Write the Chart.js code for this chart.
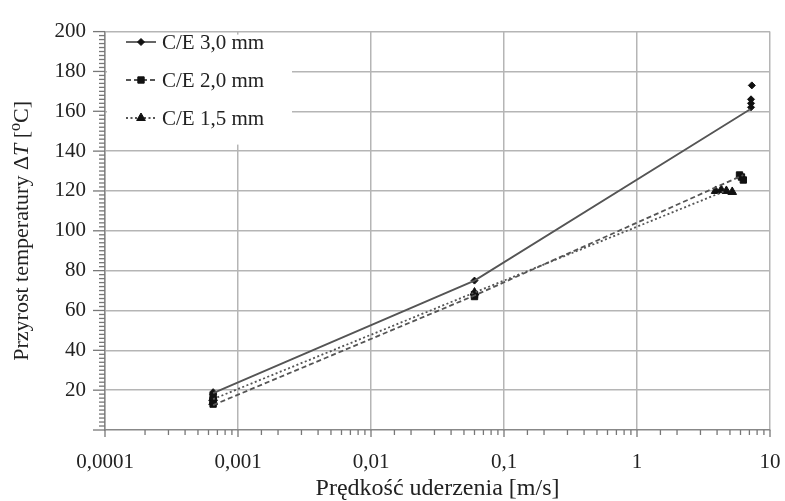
<!DOCTYPE html>
<html>
<head>
<meta charset="utf-8">
<script src="https://cdn.jsdelivr.net/npm/chart.js@4/dist/chart.umd.min.js"></script>
<style>
  html, body { margin: 0; padding: 0; background: #fff; }
  #wrap { width: 785px; height: 501px; position: relative; }
</style>
</head>
<body>
<div id="wrap"><canvas id="chart"></canvas></div>
<script>
// Series names (legend)
const seriesNames = ['C/E 3,0 mm', 'C/E 2,0 mm', 'C/E 1,5 mm'];

// Trend lines
const line30X = [0.00065, 0.06, 7.1];
const line30Y = [18.5, 75, 161];
const line20X = [0.00065, 0.06, 6.3];
const line20Y = [12.5, 67.5, 128];
const line15X = [0.00065, 0.06, 4.6];
const line15Y = [15.5, 69, 120];

// Measured points
const pts30X = [0.00065, 0.00065, 0.06, 7.3, 7.2, 7.2, 7.2];
const pts30Y = [19, 18, 75, 173, 166, 164, 162];
const pts20X = [0.00065, 0.00065, 0.00065, 0.06, 0.06, 5.9, 6.1, 6.3];
const pts20Y = [17, 15, 13, 68, 67, 128, 127, 125.5];
const pts15X = [0.00065, 0.00065, 0.06, 3.9, 4.3, 4.7, 5.2];
const pts15Y = [16, 14, 69, 120, 120.5, 120, 119.5];

// Axis ticks
const xTickLabels = ['0,0001', '0,001', '0,01', '0,1', '1', '10'];
const yTickValues = [20, 40, 60, 80, 100, 120, 140, 160, 180, 200];

const xTitle = 'Prędkość uderzenia [m/s]';
const FONT = '"Liberation Serif", "DejaVu Serif", serif';

function pairs(xs, ys) {
    return xs.map((x, i) => ({ x: x, y: ys[i] }));
}

function isDecade(v) {
    const l = Math.log10(v);
    return Math.abs(l - Math.round(l)) < 1e-9;
}

// minor ticks + axis titles + legend
const decorPlugin = {
    id: 'decor',
    afterDraw(chart) {
        const ctx = chart.ctx;
        const area = chart.chartArea;
        const xs = chart.scales.x;
        const ys = chart.scales.y;
        ctx.save();
        ctx.strokeStyle = '#777';
        ctx.lineWidth = 1.3;

        // x ticks (log)
        xs.ticks.forEach(t => {
            const px = xs.getPixelForValue(t.value);
            ctx.beginPath();
            ctx.moveTo(px, area.bottom);
            ctx.lineTo(px, area.bottom + (isDecade(t.value) ? 7 : 5));
            ctx.stroke();
        });
        // y ticks, minor every 2
        for (let v = 0; v <= 200; v += 2) {
            const py = ys.getPixelForValue(v);
            const major = v % 20 === 0;
            ctx.beginPath();
            ctx.moveTo(area.left - (major ? 12 : 6), py);
            ctx.lineTo(area.left, py);
            ctx.stroke();
        }

        // x title
        ctx.fillStyle = '#222';
        ctx.font = '24px ' + FONT;
        ctx.textAlign = 'center';
        ctx.textBaseline = 'middle';
        ctx.fillText(xTitle, (area.left + area.right) / 2, 489);

        // y title with italic T and raised o
        const parts = [
            { t: 'Przyrost temperatury \u0394', f: '22px ' + FONT, dy: 0 },
            { t: 'T', f: 'italic 22px ' + FONT, dy: 0 },
            { t: ' [', f: '22px ' + FONT, dy: 0 },
            { t: 'o', f: '16px ' + FONT, dy: -6 },
            { t: 'C]', f: '22px ' + FONT, dy: 0 }
        ];
        let total = 0;
        parts.forEach(p => { ctx.font = p.f; p.w = ctx.measureText(p.t).width; total += p.w; });
        ctx.save();
        ctx.translate(22, (area.top + area.bottom) / 2);
        ctx.rotate(-Math.PI / 2);
        ctx.textAlign = 'left';
        ctx.textBaseline = 'middle';
        let cx = -total / 2;
        parts.forEach(p => {
            ctx.font = p.f;
            ctx.fillText(p.t, cx, p.dy);
            cx += p.w;
        });
        ctx.restore();

        // legend
        ctx.fillStyle = '#fff';
        ctx.fillRect(area.left + 2, area.top + 3, 185, 110);
        const rows = [42, 80, 118];
        const dashes = [[], [5, 3], [2, 2.5]];
        const shapes = ['rectRot', 'rect', 'triangle'];
        const sizes = [3.5, 4.5, 5];
        rows.forEach((ry, i) => {
            ctx.strokeStyle = '#555';
            ctx.lineWidth = 1.8;
            ctx.setLineDash(dashes[i]);
            ctx.beginPath();
            ctx.moveTo(126, ry);
            ctx.lineTo(156, ry);
            ctx.stroke();
            ctx.setLineDash([]);
            ctx.fillStyle = '#111';
            ctx.strokeStyle = '#111';
            ctx.lineWidth = 1;
            Chart.helpers.drawPoint(ctx, { pointStyle: shapes[i], radius: sizes[i], rotation: 0, borderWidth: 1 }, 141, ry);
            ctx.fillStyle = '#222';
            ctx.font = '21px ' + FONT;
            ctx.textAlign = 'left';
            ctx.textBaseline = 'middle';
            ctx.fillText(seriesNames[i], 162, ry + 1);
        });
        ctx.restore();
    }
};

function lineSet(xs, ys, dash) {
    return {
        type: 'line',
        data: pairs(xs, ys),
        borderColor: '#555',
        borderWidth: 1.8,
        borderDash: dash,
        pointRadius: 0,
        fill: false,
        tension: 0
    };
}

function pointSet(xs, ys, style, r) {
    return {
        type: 'scatter',
        data: pairs(xs, ys),
        showLine: false,
        pointStyle: style,
        pointRadius: r,
        pointBackgroundColor: '#111',
        pointBorderColor: '#111',
        pointBorderWidth: 1
    };
}

new Chart(document.getElementById('chart'), {
    type: 'scatter',
    data: {
        datasets: [
            lineSet(line30X, line30Y, []),
            lineSet(line20X, line20Y, [5, 3]),
            lineSet(line15X, line15Y, [2, 2.5]),
            pointSet(pts30X, pts30Y, 'rectRot', 3.5),
            pointSet(pts20X, pts20Y, 'rect', 4.5),
            pointSet(pts15X, pts15Y, 'triangle', 5)
        ]
    },
    options: {
        responsive: true,
        maintainAspectRatio: false,
        animation: false,
        layout: { padding: { top: 21, right: 15, left: 0, bottom: 0 } },
        plugins: {
            legend: { display: false },
            tooltip: { enabled: false }
        },
        scales: {
            x: {
                type: 'logarithmic',
                min: 0.0001,
                max: 10,
                afterFit: s => { s.height = 71; s.paddingRight = 0; s.paddingLeft = 0; },
                border: { color: '#888', width: 1.5 },
                grid: {
                    drawTicks: false,
                    lineWidth: 1.5,
                    color: c => (c.tick && isDecade(c.tick.value) ? '#b5b5b5' : 'rgba(0,0,0,0)')
                },
                ticks: {
                    autoSkip: false,
                    maxRotation: 0,
                    padding: 20,
                    color: '#222',
                    font: { family: FONT, size: 21 },
                    callback: v => (isDecade(v) ? xTickLabels[Math.round(Math.log10(v)) + 4] : '')
                }
            },
            y: {
                min: 0,
                max: 200,
                afterFit: s => { s.width = 105; },
                afterBuildTicks: s => { s.ticks = [{ value: 0 }].concat(yTickValues.map(v => ({ value: v }))); },
                border: { color: '#888', width: 1.5 },
                grid: {
                    drawTicks: false,
                    lineWidth: 1.5,
                    color: c => (c.tick && c.tick.value === 0 ? 'rgba(0,0,0,0)' : '#b5b5b5')
                },
                ticks: {
                    padding: 19,
                    color: '#222',
                    font: { family: FONT, size: 21 },
                    callback: v => (v === 0 ? '' : String(v))
                }
            }
        }
    },
    plugins: [decorPlugin]
});
</script>
</body>
</html>
